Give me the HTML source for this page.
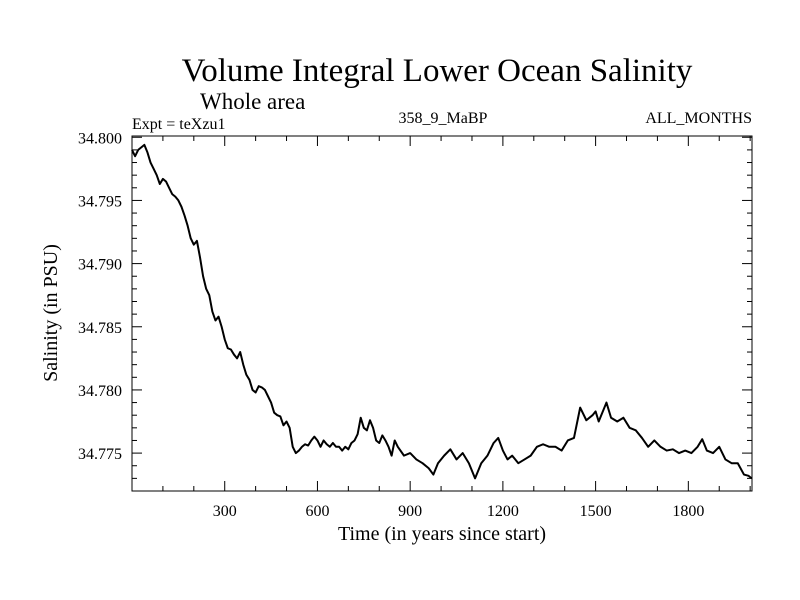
<!DOCTYPE html>
<html><head><meta charset="utf-8">
<style>
html,body{margin:0;padding:0;background:#fff;}
svg{display:block;font-family:"Liberation Serif",serif;}
</style></head>
<body>
<svg id="chart" width="800" height="600" viewBox="0 0 800 600" xmlns="http://www.w3.org/2000/svg">
<rect width="800" height="600" fill="#fff"/>
<text x="437" y="81" font-size="33" text-anchor="middle">Volume Integral Lower Ocean Salinity</text>
<text x="200" y="109" font-size="23">Whole area</text>
<text x="132" y="129" font-size="16">Expt = teXzu1</text>
<text x="443" y="123" font-size="16" text-anchor="middle">358_9_MaBP</text>
<text x="752" y="123" font-size="16" text-anchor="end">ALL_MONTHS</text>
<text transform="translate(57,313) rotate(-90)" font-size="20" text-anchor="middle">Salinity (in PSU)</text>
<text x="442" y="540" font-size="20" text-anchor="middle">Time (in years since start)</text>
<g id="axes"></g>
<path id="series" fill="none" stroke="#000" stroke-width="2" stroke-linejoin="round"/>
<rect x="132" y="136" width="620" height="355" fill="none" stroke="#000" stroke-width="1"/>
</svg>
<script>
const years=[0,10,20,30,40,50,60,70,80,90,100,110,120,130,140,150,160,170,180,190,200,210,220,230,240,250,260,270,280,290,300,310,320,330,340,350,360,370,380,390,400,410,420,430,440,450,460,470,480,490,500,510,520,530,540,550,560,570,580,590,600,610,620,630,640,650,660,670,680,690,700,710,720,730,740,750,760,770,780,790,800,810,820,830,840,850,860,880,900,920,940,960,975,990,1010,1030,1050,1070,1090,1110,1130,1150,1170,1185,1200,1215,1230,1250,1270,1290,1310,1330,1350,1370,1390,1410,1430,1450,1470,1490,1500,1510,1535,1550,1570,1590,1610,1630,1650,1670,1690,1710,1730,1750,1770,1790,1810,1830,1845,1860,1880,1900,1920,1940,1960,1980,1995,2005];
const salinity=[34.7990,34.7985,34.7990,34.7992,34.7994,34.7988,34.7980,34.7975,34.7970,34.7963,34.7967,34.7965,34.7960,34.7955,34.7953,34.7950,34.7945,34.7938,34.7930,34.7920,34.7915,34.7918,34.7905,34.7890,34.7880,34.7875,34.7862,34.7855,34.7858,34.7850,34.7840,34.7833,34.7832,34.7828,34.7825,34.7830,34.7820,34.7812,34.7808,34.7800,34.7798,34.7803,34.7802,34.7800,34.7795,34.7790,34.7782,34.7780,34.7779,34.7772,34.7775,34.7770,34.7755,34.7750,34.7752,34.7755,34.7757,34.7756,34.7760,34.7763,34.7760,34.7755,34.7760,34.7757,34.7755,34.7758,34.7755,34.7755,34.7752,34.7755,34.7753,34.7758,34.7760,34.7765,34.7778,34.7770,34.7768,34.7776,34.7770,34.7760,34.7758,34.7764,34.7760,34.7755,34.7748,34.7760,34.7755,34.7748,34.7750,34.7745,34.7742,34.7738,34.7733,34.7742,34.7748,34.7753,34.7745,34.7750,34.7742,34.7730,34.7742,34.7748,34.7758,34.7762,34.7752,34.7745,34.7748,34.7742,34.7745,34.7748,34.7755,34.7757,34.7755,34.7755,34.7752,34.7760,34.7762,34.7786,34.7776,34.7780,34.7783,34.7775,34.7790,34.7778,34.7775,34.7778,34.7770,34.7768,34.7762,34.7755,34.7760,34.7755,34.7752,34.7753,34.7750,34.7752,34.7750,34.7755,34.7761,34.7752,34.7750,34.7755,34.7745,34.7742,34.7742,34.7733,34.7732,34.7730];
const xTicks=[300,600,900,1200,1500,1800];
const yTicks=["34.775","34.780","34.785","34.790","34.795","34.800"];
const X0=132,X1=752,Y0=136,Y1=491;
const xMin=0,xMax=2006,yMin=34.7720,yMax=34.8001;
const sx=v=>X0+(v-xMin)/(xMax-xMin)*(X1-X0);
const sy=v=>Y1-(v-yMin)/(yMax-yMin)*(Y1-Y0);
const NS="http://www.w3.org/2000/svg";
const axes=document.getElementById('axes');
function line(x1,y1,x2,y2){const l=document.createElementNS(NS,'line');l.setAttribute('x1',x1);l.setAttribute('y1',y1);l.setAttribute('x2',x2);l.setAttribute('y2',y2);l.setAttribute('stroke','#000');l.setAttribute('stroke-width','1');


axes.appendChild(l);}
function text(x,y,s,anchor){const t=document.createElementNS(NS,'text');t.setAttribute('x',x);t.setAttribute('y',y);t.setAttribute('font-size','16');t.setAttribute('text-anchor',anchor);t.textContent=s;


axes.appendChild(t);}
for(let v=100;v<xMax;v+=100){const x=sx(v);const major=v%300===0;const len=major?10:5;line(x,Y1,x,Y1-len);line(x,Y0,x,Y0+len);}
xTicks.forEach(v=>text(sx(v),Y1+25,String(v),'middle'));
for(let k=0;k<=28;k++){const v=34.773+k*0.001;if(v>yMax+1e-9)break;const y=sy(v);const major=Math.abs((v*1000)%5)<1e-6||Math.abs((v*1000)%5-5)<1e-6;const len=major?10:5;line(X0,y,X0+len,y);line(X1,y,X1-len,y);}
yTicks.forEach(s=>text(X0-10,sy(parseFloat(s))+6,s,'end'));
let d='';years.forEach((yr,i)=>{d+=(i?'L':'M')+sx(yr).toFixed(2)+','+sy(salinity[i]).toFixed(2);});
document.getElementById('series').setAttribute('d',d);
</script>
</body></html>
